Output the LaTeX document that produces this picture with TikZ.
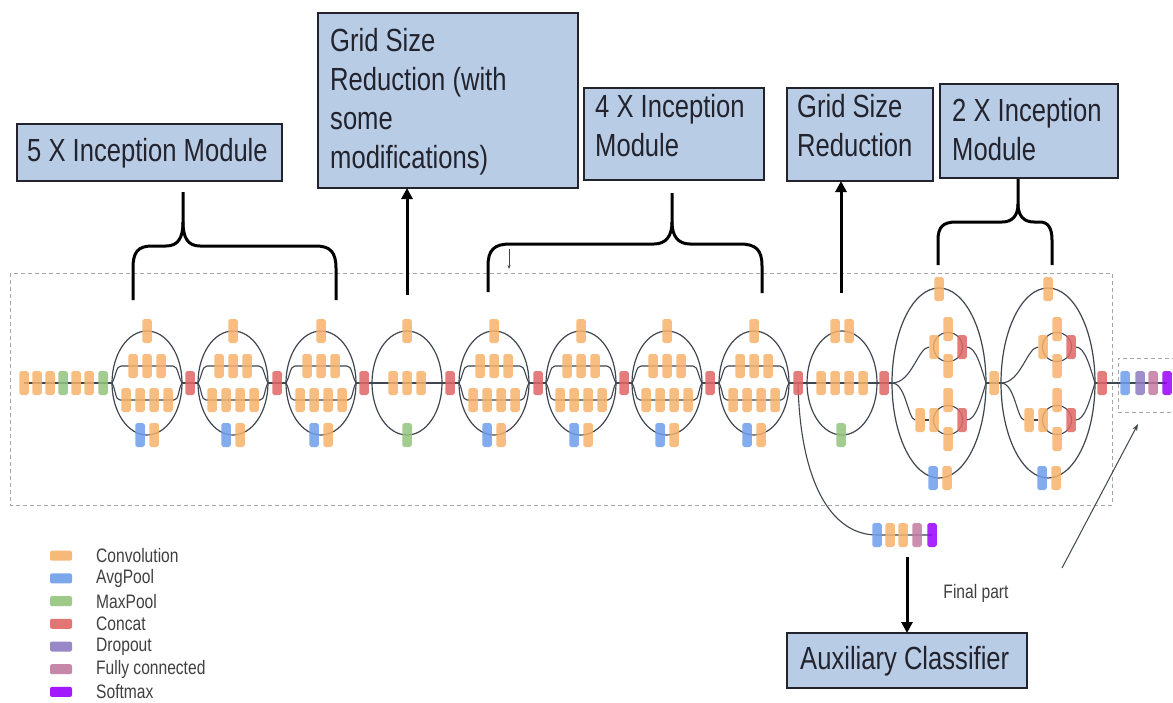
\documentclass[tikz,border=0pt]{standalone}
\usepackage{fontspec}
\setmainfont{Liberation Sans}[FakeStretch=0.8]
\usetikzlibrary{shapes.geometric,arrows.meta}

\definecolor{conv}{RGB}{246,178,107}
\definecolor{avgp}{RGB}{109,158,235}
\definecolor{maxp}{RGB}{147,196,125}
\definecolor{concat}{RGB}{224,102,102}
\definecolor{dropc}{RGB}{142,124,195}
\definecolor{fcc}{RGB}{194,123,160}
\definecolor{softc}{RGB}{153,0,255}
\definecolor{boxblue}{RGB}{184,204,230}
\definecolor{wire}{RGB}{62,70,80}
\definecolor{ink}{RGB}{35,35,45}

\pgfdeclarelayer{back}
\pgfdeclarelayer{bg}
\pgfsetlayers{back,bg,main}

\tikzset{
  blk/.style={rectangle, rounded corners=1.8pt, minimum width=9.5pt, minimum height=24pt,
              inner sep=0pt, outer sep=0pt, fill opacity=0.85, draw=none},
  bconv/.style={blk, fill=conv},
  bavg/.style={blk, fill=avgp},
  bmax/.style={blk, fill=maxp},
  bcat/.style={blk, fill=concat},
  bdrop/.style={blk, fill=dropc},
  bfc/.style={blk, fill=fcc},
  bsoft/.style={blk, fill=softc},
  flow/.style={draw=wire, line width=1.1pt},
  ell/.style={ellipse, draw=wire, line width=1.2pt, inner sep=0pt, outer sep=0pt},
  subring/.style={circle, draw=wire, line width=1.1pt, minimum size=29pt, inner sep=0pt, outer sep=0pt},
  framebox/.style={draw=black!35, line width=0.9pt, dash pattern=on 4pt off 3pt},
  tbox/.style={draw=ink, line width=1.4pt, fill=boxblue, inner sep=0pt, outer sep=0pt},
  btext/.style={text=ink, align=left, inner sep=0pt, font=\fontsize{32}{39}\selectfont},
  ltext/.style={text=black!75, inner sep=0pt, font=\fontsize{19.5}{23}\selectfont},
  lsw/.style={rectangle, rounded corners=2pt, minimum width=22pt, minimum height=10pt,
              inner sep=0pt, fill opacity=0.9},
  bigarrow/.style={draw=black, line width=3pt, -{Triangle[length=11pt,width=11pt]}},
  brace/.style={draw=black, line width=3pt},
}

% Inception module with four parallel branches
\newcommand\incA[2]{%
  \node[ell, minimum width=70pt, minimum height=104pt] (#1) at (#2,383) {};
  \node[bconv] (#1t) at (#2,331) {};
  \node[bconv] (#1a) at (#2-14,366) {};
  \node[bconv] (#1b) at (#2,366) {};
  \node[bconv] (#1c) at (#2+14,366) {};
  \node[bconv] (#1d) at (#2-21,400) {};
  \node[bconv] (#1e) at (#2-7,400) {};
  \node[bconv] (#1f) at (#2+7,400) {};
  \node[bconv] (#1g) at (#2+21,400) {};
  \node[bavg] (#1p) at (#2-7,435) {};
  \node[bconv] (#1q) at (#2+7,435) {};
  \begin{pgfonlayer}{bg}
    \draw[flow] (#1.west) .. controls +(4,-7) and +(-5,0) .. (#2-26,366)
      -- (#2+26,366) .. controls +(5,0) and +(-4,-7) .. (#1.east);
    \draw[flow] (#1.west) .. controls +(4,7) and +(-5,0) .. (#2-27,400)
      -- (#2+27,400) .. controls +(5,0) and +(-4,7) .. (#1.east);
  \end{pgfonlayer}
}

% Inception module with expanded filter banks
\newcommand\incC[2]{%
  \node[ell, minimum width=94pt, minimum height=190pt] (#1) at (#2,383) {};
  \node[subring] (#1u) at (#2+9,347) {};
  \node[subring] (#1l) at (#2+9,420) {};
  \node[bconv] (#1t) at (#2,289) {};
  \node[bconv] (#1ut) at (#2+9,329) {};
  \node[bconv] (#1ua) at (#2-5,347) {};
  \node[bconv] (#1ub) at (#2+9,366) {};
  \node[bcat] (#1ur) at (#2+23,347) {};
  \node[bconv] (#1lt) at (#2+9,400) {};
  \node[bconv] (#1la) at (#2-19,420) {};
  \node[bconv] (#1lb) at (#2-5,420) {};
  \node[bconv] (#1lc) at (#2+9,439) {};
  \node[bcat] (#1lr) at (#2+23,420) {};
  \node[bavg] (#1p) at (#2-6,478) {};
  \node[bconv] (#1q) at (#2+8,478) {};
  \begin{pgfonlayer}{bg}
    \draw[flow] (#1.west) .. controls +(20,0) and +(-16,0) .. (#1ua);
    \draw[flow] (#1ur) .. controls +(14,0) and +(-5,-16) .. (#1.east);
    \draw[flow] (#1.west) .. controls +(14,0) and +(-12,0) .. (#1la);
    \draw[flow] (#1la) -- (#1lb);
    \draw[flow] (#1lr) .. controls +(14,0) and +(-5,16) .. (#1.east);
  \end{pgfonlayer}
}

\begin{document}
\begin{tikzpicture}[x=1pt,y=-1pt]
\useasboundingbox (0,0) rectangle (1173,702);
\begin{pgfonlayer}{back}
  \fill[white] (0,0) rectangle (1173,702);
  \draw[framebox] (10,273) rectangle (1112,505);
  \draw[framebox] (1176,358) -- (1118,358) -- (1118,412) -- (1176,412);
\end{pgfonlayer}

% stem
\node[bconv] (s1) at (24,383) {};
\node[bconv] (s2) at (37,383) {};
\node[bconv] (s3) at (50,383) {};
\node[bmax]  (s4) at (63,383) {};
\node[bconv] (s5) at (76,383) {};
\node[bconv] (s6) at (89,383) {};
\node[bmax]  (s7) at (103,383) {};

% 5 x inception
\incA{m1}{147}
\node[bcat] (r1) at (190,383) {};
\incA{m2}{233}
\node[bcat] (r2) at (277,383) {};
\incA{m3}{321}
\node[bcat] (r3) at (364,383) {};

% grid size reduction (modified)
\node[ell, minimum width=70pt, minimum height=104pt] (g1) at (407,383) {};
\node[bconv] (g1t) at (407,331) {};
\node[bconv] (g1a) at (393,383) {};
\node[bconv] (g1b) at (407,383) {};
\node[bconv] (g1c) at (421,383) {};
\node[bmax]  (g1p) at (407,435) {};
\node[bcat] (r4) at (450,383) {};

% 4 x inception
\incA{m4}{494}
\node[bcat] (r5) at (538,383) {};
\incA{m5}{581}
\node[bcat] (r6) at (624,383) {};
\incA{m6}{667}
\node[bcat] (r7) at (710,383) {};
\incA{m7}{754}
\node[bcat] (r8) at (798,383) {};

% grid size reduction
\node[ell, minimum width=70pt, minimum height=104pt] (g2) at (842,383) {};
\node[bconv] (g2t1) at (835,331) {};
\node[bconv] (g2t2) at (849,331) {};
\node[bconv] (g2a) at (821,383) {};
\node[bconv] (g2b) at (835,383) {};
\node[bconv] (g2c) at (849,383) {};
\node[bconv] (g2d) at (863,383) {};
\node[bmax]  (g2p) at (841,435) {};
\node[bcat] (r9) at (884,383) {};

% 2 x inception
\incC{c1}{939}
\node[bconv] (o1) at (994,383) {};
\incC{c2}{1048}
\node[bcat] (r10) at (1102,383) {};

% final part
\node[bavg]  (f1) at (1125,383) {};
\node[bdrop] (f2) at (1140,383) {};
\node[bfc]   (f3) at (1153,383) {};
\node[bsoft] (f4) at (1167,383) {};

% auxiliary head
\node[bavg]  (a1) at (877,535) {};
\node[bconv] (a2) at (890,535) {};
\node[bconv] (a3) at (903,535) {};
\node[bfc]   (a4) at (917,535) {};
\node[bsoft] (a5) at (932,535) {};

\begin{pgfonlayer}{bg}
  \draw[flow] (s1.center) -- (m1.west) (m1.east) -- (m2.west) (m2.east) -- (m3.west)
    (m3.east) -- (m4.west) (m4.east) -- (m5.west) (m5.east) -- (m6.west)
    (m6.east) -- (m7.west) (m7.east) -- (c1.west) (c1.east) -- (c2.west)
    (c2.east) -- (f4.center);
  \draw[flow] (r8.center) .. controls (800,480) and (830,535) .. (a1.center) -- (a5.center);
\end{pgfonlayer}

% labels
\node[tbox, minimum width=265pt, minimum height=57pt] (b5) at (149.5,152.5) {};
\node[btext, anchor=west] (b5t) at (27,153) {5 X Inception Module};

\node[tbox, minimum width=260pt, minimum height=175pt] (bgw) at (448,100.5) {};
\node[btext, anchor=west] (bgwt) at (330,102) {Grid Size\\Reduction (with\\some\\modifications)};

\node[tbox, minimum width=180pt, minimum height=92pt] (b4) at (674,134) {};
\node[btext, anchor=west] (b4t) at (595,126) {4 X Inception\\Module};

\node[tbox, minimum width=146pt, minimum height=93pt] (bgr) at (860,134.5) {};
\node[btext, anchor=west] (bgrt) at (797,126) {Grid Size\\Reduction};

\node[tbox, minimum width=178pt, minimum height=94pt] (b2) at (1029,131) {};
\node[btext, anchor=west] (b2t) at (952,130) {2 X Inception\\Module};

\node[tbox, minimum width=240pt, minimum height=55pt] (aux) at (907,660.5) {};
\node[btext, anchor=west] (auxt) at (800,661) {Auxiliary Classifier};

% braces
\draw[brace] (133,300) -- (133,268) .. controls (133,252) and (138,246) .. (152,246)
  -- (166,246) .. controls (178,246) and (183,238) .. (183,222) -- (183,192);
\draw[brace] (183,222) .. controls (183,238) and (188,246) .. (200,246)
  -- (316,246) .. controls (330,246) and (336,252) .. (336,268) -- (336,300);

\draw[brace] (488,292) -- (488,266) .. controls (488,250) and (494,244) .. (510,244)
  -- (654,244) .. controls (666,244) and (672,236) .. (672,222) -- (672,193);
\draw[brace] (672,222) .. controls (672,236) and (678,244) .. (690,244)
  -- (740,244) .. controls (756,244) and (762,250) .. (762,266) -- (762,293);

\draw[brace] (938,265) -- (938,240) .. controls (938,227) and (943,222) .. (956,222)
  -- (1002,222) .. controls (1012,222) and (1018,216) .. (1018,204) -- (1018,179);
\draw[brace] (1018,204) .. controls (1018,216) and (1024,222) .. (1034,222)
  -- (1040,222) .. controls (1048,222) and (1052,228) .. (1052,240) -- (1052,265);

\coordinate (tk1) at (509,249);
\coordinate (tk2) at (509,269);
\draw[draw=wire, line width=0.6pt, -{Stealth[length=4pt,width=3pt]}] (tk1) -- (tk2);

% arrows
\coordinate (g1up) at (407,295);
\draw[bigarrow] (g1up) -- (g1up |- bgw.south);
\coordinate (g2up) at (841,293);
\draw[bigarrow] (g2up) -- (g2up |- bgr.south);
\coordinate (auxtail) at (907,557);
\draw[bigarrow] (auxtail) -- (aux.north);

\coordinate (fptail) at (1062,568);
\coordinate (fphead) at (1138,424);
\draw[draw=wire, line width=1pt, -{Stealth[length=7pt,width=5pt]}] (fptail) -- (fphead);
\node[ltext] (fp) at (976,593) {Final part};

% legend
\foreach \c/\t [count=\i] in {conv/Convolution, avgp/AvgPool, maxp/MaxPool, concat/Concat,
    dropc/Dropout, fcc/Fully connected, softc/Softmax} {
  \node[lsw, fill=\c] (lg\i) at (61,533+22.7*\i) {};
  \node[ltext, anchor=west] (lt\i) at (96,533+22.7*\i) {\t};
}
\end{tikzpicture}
\end{document}
